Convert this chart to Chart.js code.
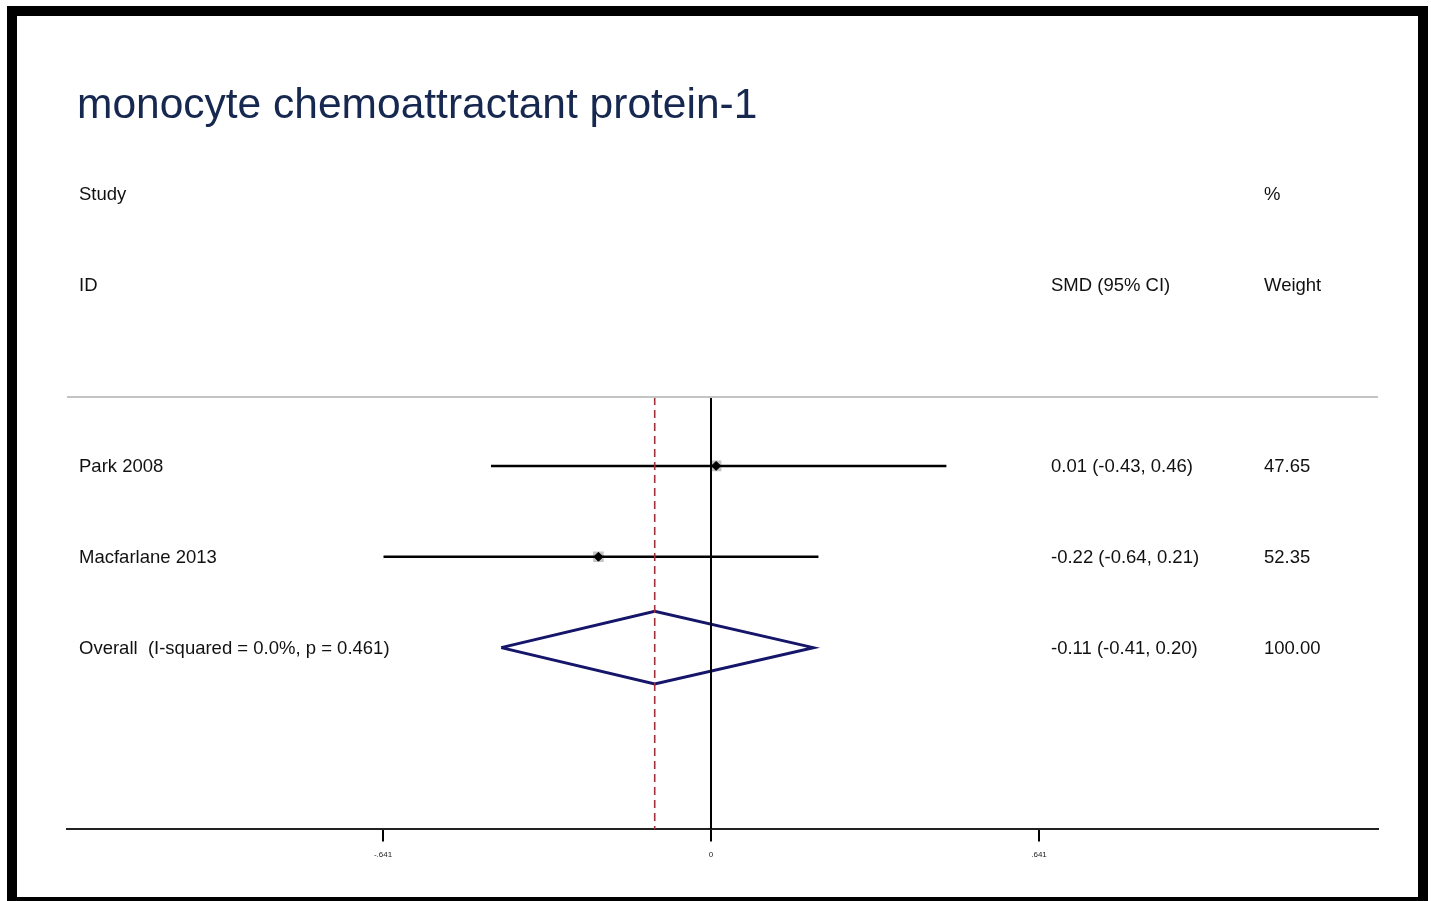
<!DOCTYPE html>
<html>
<head>
<meta charset="utf-8">
<script src="https://cdn.jsdelivr.net/npm/chart.js@4.4.1/dist/chart.umd.min.js"></script>
<style>
	html, body { margin: 0; padding: 0; background: #fff; }
	#wrap { position: relative; width: 1431px; height: 901px; overflow: hidden; }
	#frame {
		position: absolute; left: 7px; top: 6px; width: 1401px; height: 881px;
		border: 10px solid #000; box-sizing: content-box; pointer-events: none;
	}
	canvas { position: absolute; left: 0; top: 0; }
</style>
</head>
<body>
<div id="wrap">
	<canvas id="forest" width="1431" height="901"></canvas>
	<div id="frame"></div>
</div>
<script>
// Study rows
var studies = ['Park 2008', 'Macfarlane 2013'];
var smd = [0.01, -0.22];
var ciLow = [-0.43, -0.64];
var ciHigh = [0.46, 0.21];
var smdText = ['0.01 (-0.43, 0.46)', '-0.22 (-0.64, 0.21)'];
var weights = ['47.65', '52.35'];

// Pooled estimate
var overallLabel = 'Overall  (I-squared = 0.0%, p = 0.461)';
var overall = -0.11, overallLow = -0.41, overallHigh = 0.20;
var overallText = '-0.11 (-0.41, 0.20)';
var overallWeight = '100.00';

// Axis ticks
var tickValues = [-0.641, 0, 0.641];
var tickLabels = ['-.641', '0', '.641'];

var title = 'monocyte chemoattractant protein-1';

/***************************************
	Build datasets from the arrays
***************************************/

var rowOf = function(i) { return i + 1; };
var overallRow = studies.length + 1;
var yTop = 0.242, yBottom = 5;

var datasets = [];

// Null line
datasets.push({
	data: [{x: 0, y: yTop}, {x: 0, y: yBottom}],
	borderColor: '#000', borderWidth: 2, pointRadius: 0, order: 1
});

// Overall effect line (dashed)
datasets.push({
	data: [{x: overall, y: yTop}, {x: overall, y: yBottom}],
	borderColor: '#a0303a', borderWidth: 1.6, borderDash: [8, 5], pointRadius: 0, order: 1
});

// Confidence intervals
studies.forEach(function(s, i) {
	datasets.push({
		data: [{x: ciLow[i], y: rowOf(i)}, {x: ciHigh[i], y: rowOf(i)}],
		borderColor: '#000', borderWidth: 2.5, pointRadius: 0, order: 1
	});
});

// Weight boxes (drawn underneath) and point estimates (drawn on top)
datasets.push({
	type: 'scatter',
	order: 2,
	data: studies.map(function(s, i) { return {x: smd[i], y: rowOf(i)}; }),
	pointStyle: 'rect', pointRadius: 7.5,
	pointBackgroundColor: '#c4c4c4', pointBorderColor: '#c4c4c4', pointBorderWidth: 0
});
datasets.push({
	type: 'scatter',
	order: 0,
	data: studies.map(function(s, i) { return {x: smd[i], y: rowOf(i)}; }),
	pointStyle: 'rectRot', pointRadius: 4.5,
	pointBackgroundColor: '#000', pointBorderColor: '#000', pointBorderWidth: 1
});

// Diamond for the pooled estimate
datasets.push({
	order: 1,
	data: [
		{x: overallLow, y: overallRow},
		{x: overall, y: overallRow - 0.4},
		{x: overallHigh, y: overallRow},
		{x: overall, y: overallRow + 0.4},
		{x: overallLow, y: overallRow}
	],
	borderColor: '#15156a', borderWidth: 3, pointRadius: 0, tension: 0
});

/***************************************
	Text columns and decorations
***************************************/

var forestText = {
	id: 'forestText',
	afterDraw: function(chart) {
		var ctx = chart.ctx;
		var area = chart.chartArea;
		var y = chart.scales.y;
		var colStudy = area.left + 12, colSmd = area.left + 984, colWeight = area.left + 1197;
		var rowY = function(v) { return y.getPixelForValue(v) + 1.5; };

		ctx.save();
		// Header separator
		ctx.strokeStyle = '#c4c4c4';
		ctx.lineWidth = 2;
		ctx.beginPath();
		ctx.moveTo(area.left, area.top);
		ctx.lineTo(area.right, area.top);
		ctx.stroke();

		// Title
		ctx.fillStyle = '#172850';
		ctx.font = '42.5px "Liberation Sans", Arial, sans-serif';
		ctx.textBaseline = 'middle';
		ctx.fillText(title, area.left + 10, 106);

		ctx.fillStyle = '#111';
		ctx.font = '18.5px "Liberation Sans", Arial, sans-serif';

		ctx.fillText('Study', colStudy, rowY(-2));
		ctx.fillText('%', colWeight, rowY(-2));
		ctx.fillText('ID', colStudy, rowY(-1));
		ctx.fillText('SMD (95% CI)', colSmd, rowY(-1));
		ctx.fillText('Weight', colWeight, rowY(-1));

		studies.forEach(function(s, i) {
			var py = rowY(rowOf(i));
			ctx.fillText(s, colStudy, py);
			ctx.fillText(smdText[i], colSmd, py);
			ctx.fillText(weights[i], colWeight, py);
		});

		var po = rowY(overallRow);
		ctx.fillText(overallLabel, colStudy, po);
		ctx.fillText(overallText, colSmd, po);
		ctx.fillText(overallWeight, colWeight, po);
		ctx.restore();
	}
};

var xMin = (67 - 711) / 511.7;
var xMax = (1378 - 711) / 511.7;

new Chart(document.getElementById('forest').getContext('2d'), {
	type: 'line',
	data: { datasets: datasets },
	options: {
		responsive: false,
		animation: false,
		events: [],
		layout: { padding: { left: 67, right: 53, top: 397, bottom: 32 } },
		plugins: { legend: { display: false }, tooltip: { enabled: false } },
		scales: {
			x: {
				type: 'linear',
				min: xMin,
				max: xMax,
				afterBuildTicks: function(axis) {
					axis.ticks = tickValues.map(function(v) { return {value: v}; });
				},
				grid: {
					drawOnChartArea: false,
					drawTicks: true,
					tickLength: 12,
					color: '#000',
					lineWidth: 2
				},
				border: { color: '#222', width: 2 },
				ticks: {
					color: '#222',
					padding: 9,
					font: { size: 8, family: '"Liberation Sans", Arial, sans-serif' },
					callback: function(v) {
						var i = tickValues.indexOf(v);
						return i >= 0 ? tickLabels[i] : '';
					}
				}
			},
			y: {
				type: 'linear',
				display: false,
				reverse: true,
				min: yTop,
				max: yBottom
			}
		}
	},
	plugins: [forestText]
});
</script>
</body>
</html>
